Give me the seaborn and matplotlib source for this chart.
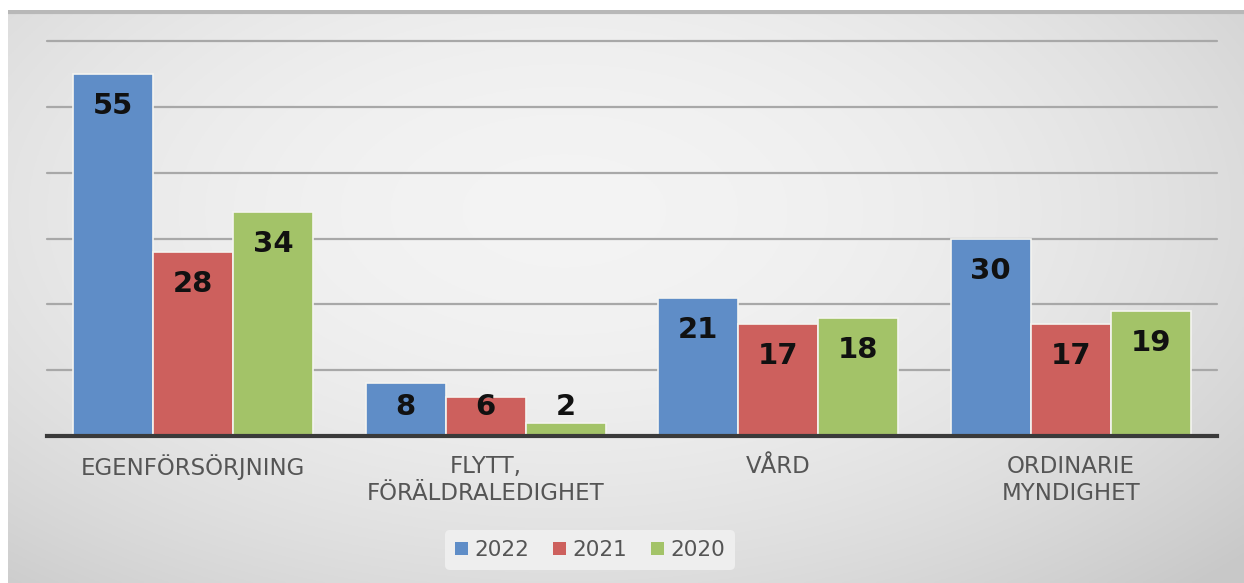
import numpy as np
import pandas as pd
import matplotlib
matplotlib.use("Agg")
import matplotlib.pyplot as plt
import seaborn as sns
from matplotlib.patches import Patch

categories = ["EGENFÖRSÖRJNING", "FLYTT,\nFÖRÄLDRALEDIGHET", "VÅRD", "ORDINARIE\nMYNDIGHET"]
years = ["2022", "2021", "2020"]
values_2022 = [55, 8, 21, 30]
values_2021 = [28, 6, 17, 17]
values_2020 = [34, 2, 18, 19]
colors = ["#5F8DC7", "#CD605D", "#A3C368"]

df = pd.DataFrame({
    "cat": categories * 3,
    "year": [years[0]] * 4 + [years[1]] * 4 + [years[2]] * 4,
    "val": values_2022 + values_2021 + values_2020,
})

sns.set_theme(style="white")
plt.rcParams['font.family'] = ['DejaVu Sans']

W, H = 1244, 583
fig = plt.figure(figsize=(W / 100, H / 100), dpi=100)
fig.patch.set_facecolor("white")

# background gradient panel
bg = fig.add_axes([8 / W, 0, 1 - 8 / W, 1 - 10 / H])
yy, xx = np.mgrid[0:1:300j, 0:1:600j]
r = np.sqrt(((xx - 0.45) / 0.75) ** 2 + ((yy - 0.35) / 0.9) ** 2)
shade = 0.955 - 0.17 * np.clip(r, 0, 1) ** 2.0
bg.imshow(np.dstack([shade] * 3), aspect="auto", extent=[0, 1, 1, 0])
bg.plot([0, 1], [0.996, 0.996], color="#B8B8B8", lw=3, transform=bg.transAxes)
bg.set_xlim(0, 1)
bg.set_ylim(1, 0)
bg.set_axis_off()

ax = fig.add_axes([47 / W, 1 - 436 / H, (1217 - 47) / W, (436 - 41) / H])
ax.patch.set_alpha(0)
sns.barplot(data=df, x="cat", y="val", hue="year", hue_order=years,
            palette=colors, width=0.82, edgecolor="#F4F4F0", linewidth=1.2,
            saturation=1, ax=ax, legend=False, zorder=3)

ax.set_ylim(0, 60)
ax.set_xlim(-0.5, 3.5)
for gy in range(10, 61, 10):
    ax.axhline(gy, color="#A8A8A8", lw=1.6, zorder=0, clip_on=False)
ax.tick_params(axis="y", left=False, labelleft=False)
ax.tick_params(axis="x", bottom=False, labelbottom=False)
ax.set_xlabel("")
ax.set_ylabel("")
for s in ["top", "right", "left"]:
    ax.spines[s].set_visible(False)
ax.spines["bottom"].set_color("#3A3A3A")
ax.spines["bottom"].set_linewidth(3)
ax.spines["bottom"].set_zorder(5)

for i, cat in enumerate(categories):
    ax.text(i, -0.047, cat, transform=ax.get_xaxis_transform(), ha="center", va="top",
            fontsize=16.5, color="#555555", linespacing=1.25)

for cont in ax.containers:
    for bar in cont:
        v = bar.get_height()
        x = bar.get_x() + bar.get_width() / 2
        ypos = max(v - 4.9, 4.4)
        ax.text(x, ypos, f"{int(round(v))}", ha="center", va="center",
                fontsize=21, fontweight="bold", color="#111111", zorder=6)

handles = [Patch(facecolor=c, edgecolor="none", label=y) for c, y in zip(colors, years)]
leg = fig.legend(handles=handles, loc="center", bbox_to_anchor=(590 / W, 1 - 550 / H),
                 ncol=3, frameon=True, fontsize=15.5, handlelength=0.6, handleheight=0.6,
                 handletextpad=0.3, columnspacing=1.1, borderpad=0.45)
leg.get_frame().set_facecolor("#F0F0F0")
leg.get_frame().set_edgecolor("none")
leg.get_frame().set_alpha(0.9)
for t in leg.get_texts():
    t.set_color("#555555")

fig.savefig("out.png", dpi=100)
